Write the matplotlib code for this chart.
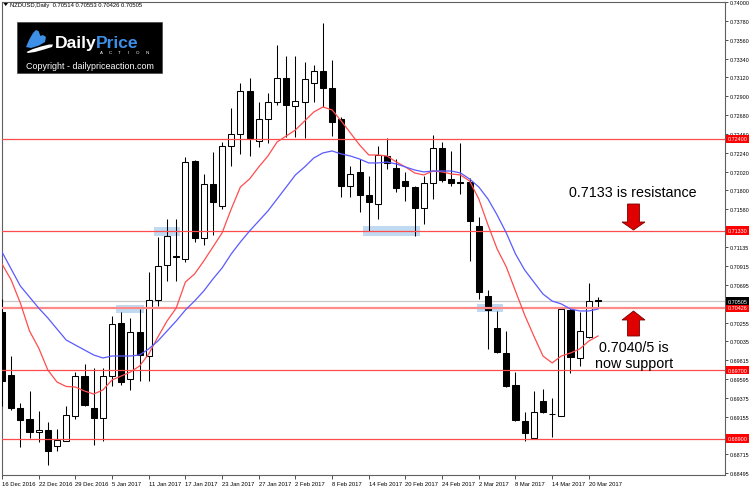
import matplotlib
matplotlib.use("Agg")
import matplotlib.pyplot as plt
from matplotlib.patches import Rectangle, Polygon

plt.rcParams['font.family'] = ['Liberation Sans', 'DejaVu Sans']

# ---------------- data ----------------
symbol_title = "NZDUSD,Daily  0.70514 0.70553 0.70426 0.70505"

date_labels = ["16 Dec 2016", "22 Dec 2016", "29 Dec 2016", "5 Jan 2017", "11 Jan 2017",
               "17 Jan 2017", "23 Jan 2017", "27 Jan 2017", "2 Feb 2017", "8 Feb 2017",
               "14 Feb 2017", "20 Feb 2017", "24 Feb 2017", "2 Mar 2017", "8 Mar 2017",
               "14 Mar 2017", "20 Mar 2017"]
date_label_bars = [0, 4, 8, 12, 16, 20, 24, 28, 32, 36, 40, 44, 48, 52, 56, 60, 64]

opens = [0.70379, 0.69643, 0.69261, 0.69129, 0.68974, 0.69004, 0.68810, 0.68876, 0.69168, 0.69631,
         0.69261, 0.69144, 0.69635, 0.70247, 0.69596, 0.70142, 0.69869, 0.70523, 0.70928, 0.71030,
         0.70998, 0.72139, 0.71240, 0.71874, 0.71614, 0.72315, 0.72455, 0.72964, 0.72380, 0.72634,
         0.72829, 0.73109, 0.72789, 0.72836, 0.73051, 0.73198, 0.72992, 0.72634, 0.71847, 0.72011,
         0.71746, 0.71637, 0.72205, 0.72061, 0.71913, 0.71839, 0.71597, 0.71886, 0.72291, 0.71933,
         0.71894, 0.71894, 0.71380, 0.70562, 0.70196, 0.69897, 0.69530, 0.69109, 0.68904, 0.69343,
         0.69192, 0.69168, 0.70402, 0.69842, 0.70083, 0.70514]
highs = [0.70531, 0.69865, 0.69316, 0.69456, 0.69226, 0.69097, 0.69012, 0.69284, 0.69682, 0.69772,
         0.69721, 0.69721, 0.70336, 0.70379, 0.70305, 0.70414, 0.70850, 0.71252, 0.71465, 0.71465,
         0.72186, 0.72155, 0.71991, 0.72245, 0.72368, 0.72759, 0.73051, 0.73113, 0.72829, 0.72937,
         0.73498, 0.73373, 0.73366, 0.73303, 0.73264, 0.73755, 0.73326, 0.72653, 0.72088, 0.72166,
         0.71964, 0.72315, 0.72412, 0.72166, 0.72011, 0.71854, 0.71971, 0.72447, 0.72361, 0.72263,
         0.72353, 0.71941, 0.71485, 0.70640, 0.70394, 0.70161, 0.69682, 0.69207, 0.69460, 0.69479,
         0.69371, 0.70434, 0.70422, 0.70382, 0.70718, 0.70553]
lows = [0.69281, 0.69234, 0.68805, 0.68907, 0.68864, 0.68595, 0.68759, 0.68870, 0.69129, 0.69281,
        0.68825, 0.68876, 0.69511, 0.69526, 0.69471, 0.69576, 0.69576, 0.70446, 0.70745, 0.70745,
        0.70960, 0.71200, 0.71162, 0.71279, 0.71582, 0.72088, 0.72225, 0.72205, 0.72307, 0.72353,
        0.72797, 0.72420, 0.72420, 0.72408, 0.72829, 0.72770, 0.72432, 0.71719, 0.71726, 0.71544,
        0.71329, 0.71465, 0.72050, 0.71777, 0.71679, 0.71270, 0.71407, 0.71699, 0.71894, 0.71854,
        0.71757, 0.70978, 0.70531, 0.69947, 0.69900, 0.69499, 0.69109, 0.68876, 0.68895, 0.69199,
        0.68915, 0.69160, 0.69666, 0.69745, 0.70075, 0.70426]
closes = [0.69573, 0.69258, 0.69121, 0.68977, 0.69004, 0.68759, 0.68880, 0.69176, 0.69635, 0.69293,
          0.69144, 0.69635, 0.70235, 0.69565, 0.70142, 0.69877, 0.70523, 0.70920, 0.71270, 0.71020,
          0.72128, 0.71240, 0.71874, 0.71668, 0.72315, 0.72458, 0.72964, 0.72415, 0.72630, 0.72829,
          0.73109, 0.72797, 0.72840, 0.73101, 0.73198, 0.72996, 0.72602, 0.71847, 0.71991, 0.71746,
          0.71668, 0.72213, 0.72120, 0.71828, 0.71854, 0.71597, 0.71886, 0.72291, 0.71925, 0.71886,
          0.71884, 0.71442, 0.70609, 0.70402, 0.69908, 0.69518, 0.69121, 0.68965, 0.69214, 0.69207,
          0.69182, 0.70414, 0.69850, 0.70154, 0.70511, 0.70505]

ma_fast = [0.70940, 0.70753, 0.70484, 0.70157, 0.69959, 0.69701, 0.69561, 0.69509, 0.69503, 0.69456,
           0.69421, 0.69468, 0.69585, 0.69631, 0.69678, 0.69748, 0.69888, 0.70087, 0.70274, 0.70425,
           0.70729, 0.70823, 0.70974, 0.71138, 0.71302, 0.71582, 0.71839, 0.71933, 0.72073, 0.72201,
           0.72365, 0.72435, 0.72505, 0.72610, 0.72715, 0.72774, 0.72739, 0.72610, 0.72470, 0.72330,
           0.72213, 0.72213, 0.72201, 0.72131, 0.72073, 0.72003, 0.71980, 0.72026, 0.72015, 0.71991,
           0.71980, 0.71909, 0.71699, 0.71396, 0.71115, 0.70905, 0.70624, 0.70344, 0.70099, 0.69865,
           0.69784, 0.69865, 0.69900, 0.69947, 0.70040, 0.70099]
ma_slow = [0.71080, 0.70881, 0.70683, 0.70554, 0.70425, 0.70309, 0.70180, 0.70052, 0.69993, 0.69935,
           0.69877, 0.69842, 0.69865, 0.69865, 0.69865, 0.69877, 0.69947, 0.70040, 0.70157, 0.70274,
           0.70402, 0.70507, 0.70624, 0.70764, 0.70893, 0.71057, 0.71197, 0.71325, 0.71442, 0.71559,
           0.71699, 0.71839, 0.71980, 0.72073, 0.72178, 0.72237, 0.72260, 0.72225, 0.72201, 0.72166,
           0.72120, 0.72120, 0.72131, 0.72108, 0.72073, 0.72038, 0.72015, 0.72026, 0.72026, 0.72026,
           0.72003, 0.71933, 0.71839, 0.71699, 0.71512, 0.71302, 0.71057, 0.70870, 0.70729, 0.70589,
           0.70507, 0.70473, 0.70414, 0.70391, 0.70391, 0.70414]

level_lines = [0.72400, 0.71330, 0.70426, 0.69700, 0.68900]
bid_price = 0.70505

price_ticks = [0.74000, 0.73780, 0.73560, 0.73340, 0.73120, 0.72900, 0.72680, 0.72460,
               0.72240, 0.72020, 0.71800, 0.71580,
               0.71135, 0.70915, 0.70695, 0.70255, 0.70035, 0.69815, 0.69595, 0.69375,
               0.69155, 0.68935, 0.68715, 0.68495]

# highlight zones: (first bar, last bar, low price, high price)
zone_bar_start = [12.4, 16.6, 39.4, 51.8]
zone_bar_end = [15.5, 19.4, 45.6, 54.6]
zone_low = [0.70367, 0.71267, 0.71267, 0.70379]
zone_high = [0.70461, 0.71372, 0.71384, 0.70473]

note_resistance = "0.7133 is resistance"
note_support = ["0.7040/5 is", "now support"]

# ---------------- figure ----------------
W, H = 750, 489
fig = plt.figure(figsize=(W / 100, H / 100), dpi=100)
fig.patch.set_facecolor('white')
ax = fig.add_axes([2 / W, 1 - 476 / H, 723 / W, 473 / H])
ax.set_facecolor('white')

n = len(opens)
body_w = 0.66
for i in range(n):
    o, h, l, c = opens[i], highs[i], lows[i], closes[i]
    ax.vlines(i, l, h, color='black', lw=0.75, zorder=3)
    fc = 'white' if c > o else 'black'
    ax.add_patch(Rectangle((i - body_w / 2, min(o, c)), body_w, abs(c - o),
                           facecolor=fc, edgecolor='black', lw=0.75, zorder=4))

for x0, x1, lo, hi in zip(zone_bar_start, zone_bar_end, zone_low, zone_high):
    ax.add_patch(Rectangle((x0, lo), x1 - x0, hi - lo, facecolor='#bdd8f2',
                           edgecolor='none', alpha=0.95, zorder=1))

ax.plot(range(n), ma_fast, color='#ff4d4d', lw=0.9, zorder=6)
ax.plot(range(n), ma_slow, color='#5a5aff', lw=0.9, zorder=6)

ax.axhline(bid_price, color='#c8c8c8', lw=0.9, zorder=2)
for lv in level_lines:
    if abs(lv - 0.70426) < 1e-6:
        ax.axhline(lv, color='#ff8a8a', lw=1.6, zorder=5)
    else:
        ax.axhline(lv, color='#ff4d4d', lw=0.9, zorder=5)

ax.set_xlim(0, 78.85)
ax.set_ylim(0.68475, 0.74000)

ax.yaxis.tick_right()
ax.set_yticks(price_ticks)
ax.set_yticklabels([f"{v:.5f}" for v in price_ticks])
ax.set_xticks(date_label_bars)
ax.set_xticklabels(date_labels)
for lab in ax.get_xticklabels():
    lab.set_ha('left')
ax.tick_params(axis='y', which='both', direction='out', length=2.5, width=0.6,
               colors='#333333', labelsize=3.9, pad=1.0, right=True, left=False)
ax.tick_params(axis='x', direction='out', length=3, width=0.6, colors='#333333',
               labelsize=4.2, pad=1.5)
for lab in ax.get_yticklabels() + ax.get_xticklabels():
    lab.set_color('black')
for sp in ax.spines.values():
    sp.set_color('#606060')
    sp.set_linewidth(0.8)

ytr = ax.get_yaxis_transform()
for lv in level_lines:
    ax.text(1.0 + 2.5 / 723, lv, f"{lv:.5f}", transform=ytr, ha='left', va='center',
            fontsize=3.9, color='white', zorder=10, clip_on=False,
            bbox=dict(boxstyle='square,pad=0.3', fc='#ff0000', ec='none'))
ax.text(1.0 + 2.5 / 723, bid_price, f"{bid_price:.5f}", transform=ytr, ha='left', va='center',
        fontsize=3.9, color='white', zorder=10, clip_on=False,
        bbox=dict(boxstyle='square,pad=0.3', fc='black', ec='none'))

# ---------------- overlay (title, logo, notes) ----------------
ov = fig.add_axes([0, 0, 1, 1])
ov.set_xlim(0, W)
ov.set_ylim(H, 0)
ov.axis('off')
ov.set_zorder(20)
ov.patch.set_alpha(0)

ov.add_patch(Polygon([(3.5, 4), (8, 4), (5.75, 7)], closed=True, fc='black', ec='none'))
ov.text(10, 5.5, symbol_title, fontsize=4.2, ha='left', va='center', color='black')

# logo
ov.add_patch(Rectangle((17, 23), 145, 51, fc='black', ec='#444444', lw=0.5))
ov.add_patch(Polygon([(26, 48), (29, 41), (33, 34), (36, 31), (38.5, 32), (40.5, 37),
                      (43, 36), (46, 38), (45, 43), (39, 46.5), (31, 49)],
                     closed=True, fc='#3d8fe8', ec='none'))
ov.add_patch(Polygon([(26.5, 53), (33, 50), (41, 47.5), (49, 45.5), (53, 45.5),
                      (52, 48), (44, 50.5), (35, 53), (28, 54)],
                     closed=True, fc='white', ec='none'))
ov.text(55, 48, "Daily", fontsize=12.6, fontweight='bold', color='white',
        ha='left', va='baseline')
ov.text(96, 48, "Price", fontsize=12.6, fontweight='bold', color='#3d8fe8',
        ha='left', va='baseline')
for k, ch in enumerate("ACTION"):
    ov.text(101 + k * 9.2, 53.5, ch, fontsize=3.2, color='white', ha='center', va='center')
ov.text(89.5, 66.5, "Copyright - dailypriceaction.com", fontsize=6.4, color='white',
        ha='center', va='center')

# annotations
ov.text(633, 193, note_resistance, fontsize=10.3, ha='center', va='center', color='black')
ov.text(634, 348, note_support[0], fontsize=10.3, ha='center', va='center', color='black')
ov.text(634, 364, note_support[1], fontsize=10.3, ha='center', va='center', color='black')

ov.add_patch(Polygon([(627.5, 205), (639.5, 205), (639.5, 223), (645, 223), (633.5, 231),
                      (622, 223), (627.5, 223)], closed=True, fc='#e00000', ec='#7a0000', lw=0.6))
ov.add_patch(Polygon([(627.5, 337), (639.5, 337), (639.5, 321), (645, 321), (633.5, 312),
                      (622, 321), (627.5, 321)], closed=True, fc='#e00000', ec='#7a0000', lw=0.6))

fig.savefig("out.png", dpi=100, facecolor='white')
